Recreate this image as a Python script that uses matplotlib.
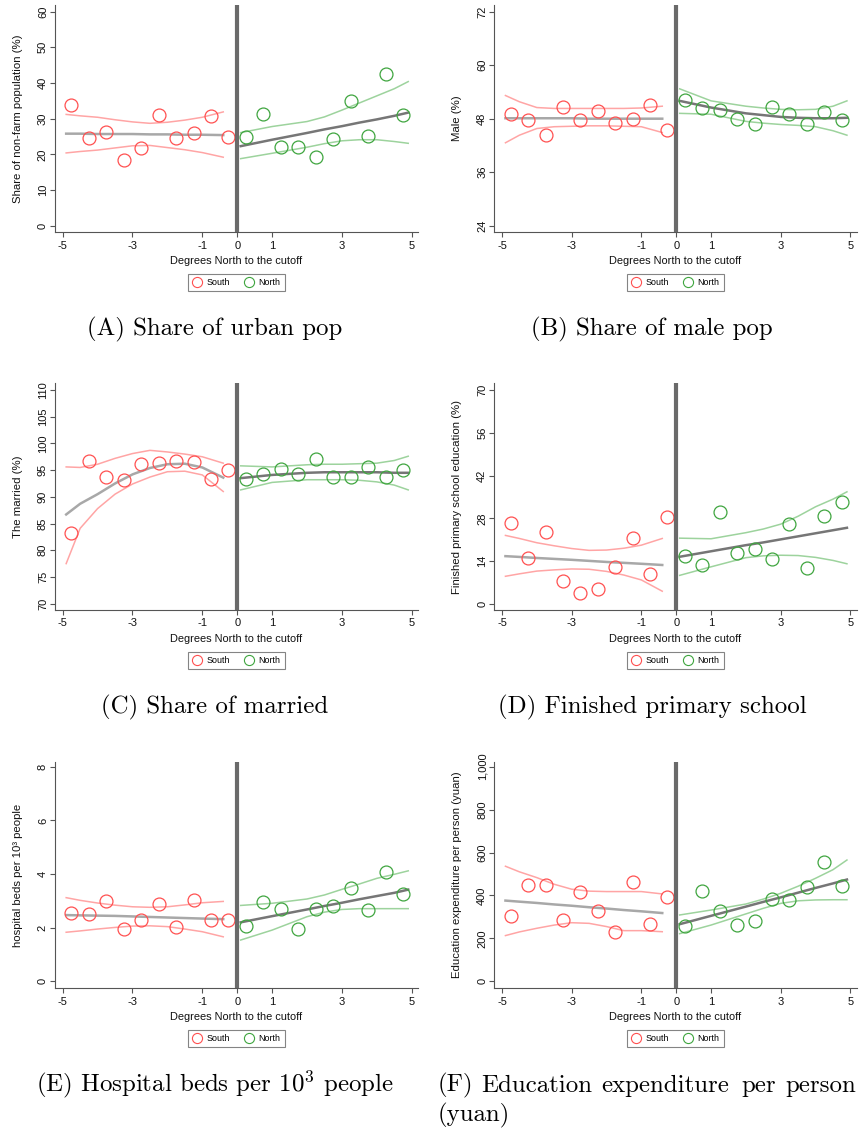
import matplotlib
matplotlib.use("Agg")
import matplotlib.pyplot as plt
from matplotlib.lines import Line2D
from matplotlib.ticker import FuncFormatter

plt.rcParams['font.family'] = ['Liberation Sans', 'DejaVu Sans']
plt.rcParams['mathtext.fontset'] = 'cm'

# ---------------- data ----------------
X_SOUTH = [-4.75, -4.25, -3.75, -3.25, -2.75, -2.25, -1.75, -1.25, -0.75, -0.25]
X_NORTH = [0.25, 0.75, 1.25, 1.75, 2.25, 2.75, 3.25, 3.75, 4.25, 4.75]
GRID_S = [-4.9, -4.5, -4.0, -3.5, -3.0, -2.5, -2.0, -1.5, -1.0, -0.4]
GRID_N = [0.1, 1.0, 2.0, 2.5, 3.0, 3.5, 4.0, 4.5, 4.9]
X_TICKS = [-5, -3, -1, 0, 1, 3, 5]

# (A) urban
A_s = [33.7, 24.7, 26.3, 18.5, 21.7, 31.1, 24.6, 25.9, 30.7, 25.0]
A_n = [25.0, 31.4, 22.1, 22.2, 19.3, 24.4, 35.0, 25.2, 42.6, 31.0]
A_fit_s = [25.8, 25.8, 25.7, 25.7, 25.7, 25.6, 25.6, 25.5, 25.5, 25.4]
A_hi_s = [31.2, 30.8, 30.4, 29.7, 29.1, 28.7, 29.0, 29.6, 30.4, 31.9]
A_lo_s = [20.4, 20.8, 21.2, 21.8, 22.4, 22.5, 21.9, 21.3, 20.5, 19.2]
A_fit_n = [22.3, 24.1, 26.0, 27.0, 27.9, 28.9, 29.8, 30.8, 31.7]
A_hi_n = [26.1, 27.8, 29.2, 30.5, 32.4, 34.4, 36.4, 38.4, 40.4]
A_lo_n = [18.8, 20.3, 22.0, 23.0, 23.8, 24.1, 24.1, 23.6, 23.1]

# (B) male
B_s = [49.0, 47.8, 44.4, 50.6, 47.7, 49.8, 47.1, 47.9, 51.0, 45.5]
B_n = [52.3, 50.5, 49.9, 47.9, 46.9, 50.6, 49.0, 46.9, 49.6, 47.6]
B_fit_s = [48.1, 48.1, 48.1, 48.1, 48.1, 48.0, 48.0, 48.0, 48.0, 48.0]
B_hi_s = [53.2, 51.8, 50.5, 50.3, 50.3, 50.3, 50.3, 50.3, 50.4, 50.8]
B_lo_s = [42.6, 44.3, 45.8, 46.2, 46.3, 46.4, 46.4, 46.3, 46.2, 44.9]
B_fit_n = [52.0, 50.5, 49.2, 48.8, 48.4, 48.2, 48.1, 48.1, 48.2]
B_hi_n = [54.7, 52.0, 50.8, 50.4, 50.1, 50.0, 50.1, 50.8, 52.0]
B_lo_n = [49.2, 49.0, 47.4, 47.0, 46.7, 46.5, 46.2, 45.3, 44.3]

# (C) married
C_s = [83.2, 96.8, 93.7, 93.2, 96.2, 96.3, 96.7, 96.5, 93.3, 95.0]
C_n = [93.3, 94.3, 95.2, 94.3, 97.1, 93.7, 93.7, 95.5, 93.7, 95.1]
C_fit_s = [86.7, 88.7, 90.5, 92.5, 94.2, 95.4, 96.1, 96.2, 95.5, 93.6]
C_hi_s = [95.6, 95.5, 96.1, 97.2, 98.1, 98.7, 98.4, 98.0, 97.5, 96.3]
C_lo_s = [77.5, 84.1, 87.8, 90.5, 92.4, 93.7, 94.7, 94.8, 94.1, 91.0]
C_fit_n = [93.5, 94.1, 94.5, 94.6, 94.6, 94.6, 94.6, 94.5, 94.5]
C_hi_n = [95.8, 95.6, 96.0, 96.1, 96.1, 96.2, 96.3, 96.8, 97.6]
C_lo_n = [91.3, 92.7, 93.2, 93.2, 93.2, 93.1, 92.8, 92.2, 91.3]

# (D) primary school
D_s = [26.4, 14.9, 23.5, 7.4, 3.5, 4.9, 11.9, 21.4, 9.8, 28.4]
D_n = [15.8, 12.7, 30.2, 16.5, 17.9, 14.7, 26.0, 11.7, 28.7, 33.2]
D_fit_s = [15.6, 15.35, 15.0, 14.7, 14.4, 14.05, 13.7, 13.4, 13.1, 12.7]
D_hi_s = [22.4, 21.4, 20.0, 19.0, 18.1, 17.5, 17.6, 18.2, 19.2, 21.4]
D_lo_s = [9.0, 9.8, 10.7, 11.1, 11.4, 11.3, 10.6, 9.4, 7.8, 4.1]
D_fit_n = [15.4, 17.2, 19.2, 20.1, 21.1, 22.1, 23.1, 24.1, 24.9]
D_hi_n = [21.5, 21.3, 23.3, 24.5, 26.1, 28.7, 31.8, 34.3, 36.7]
D_lo_n = [9.3, 12.1, 15.1, 15.7, 15.9, 15.8, 15.2, 14.2, 13.1]

# (E) hospital beds
E_s = [2.55, 2.50, 3.01, 1.96, 2.27, 2.89, 2.04, 3.02, 2.30, 2.30]
E_n = [2.05, 2.97, 2.71, 1.96, 2.71, 2.81, 3.48, 2.67, 4.09, 3.24]
E_fit_s = [2.47, 2.46, 2.45, 2.44, 2.42, 2.40, 2.38, 2.36, 2.34, 2.32]
E_hi_s = [3.12, 3.02, 2.92, 2.84, 2.78, 2.76, 2.78, 2.85, 2.93, 2.98]
E_lo_s = [1.83, 1.88, 1.95, 2.01, 2.06, 2.07, 2.04, 1.95, 1.85, 1.66]
E_fit_n = [2.20, 2.43, 2.68, 2.81, 2.93, 3.06, 3.18, 3.30, 3.42]
E_hi_n = [2.83, 2.91, 3.07, 3.22, 3.43, 3.63, 3.84, 3.99, 4.12]
E_lo_n = [1.54, 1.91, 2.41, 2.58, 2.68, 2.71, 2.71, 2.71, 2.71]

# (F) education expenditure
F_s = [303, 450, 447, 287, 418, 328, 230, 461, 269, 394]
F_n = [259, 422, 326, 262, 281, 382, 380, 439, 556, 444]
F_fit_s = [376, 371, 365, 358, 352, 345, 339, 332, 326, 318]
F_hi_s = [536, 510, 483, 452, 429, 420, 418, 418, 418, 407]
F_lo_s = [213, 230, 247, 262, 273, 270, 255, 236, 236, 231]
F_fit_n = [266, 305, 348, 370, 391, 413, 435, 456, 474]
F_hi_n = [309, 332, 360, 383, 410, 443, 480, 520, 565]
F_lo_n = [222, 262, 314, 340, 363, 375, 379, 380, 380]

YT_A = [0, 10, 20, 30, 40, 50, 60]
YT_B = [24, 36, 48, 60, 72]
YT_C = [70, 75, 80, 85, 90, 95, 100, 105, 110]
YT_D = [0, 14, 28, 42, 56, 70]
YT_E = [0, 2, 4, 6, 8]
YT_F = [0, 200, 400, 600, 800, 1000]

LABELS = ["Share of non-farm population (%)", "Male (%)", "The married (%)",
          "Finished primary school education (%)", "hospital beds per 10\u00b3 people",
          "Education expenditure per person (yuan)"]
CAPTIONS = ["(A) Share of urban pop", "(B) Share of male pop", "(C) Share of married",
            "(D) Finished primary school", r"(E) Hospital beds per $10^3$ people"]
F_WORDS = ["(F)", "Education", "expenditure", "per", "person"]
F_LINE2 = "(yuan)"

# ---------------- style ----------------
W, H = 859, 1131
RED = '#ff5050'
GREEN = '#3fa53f'
RED_CI = '#ffa5a5'
GREEN_CI = '#9dd39d'
FIT_S = '#a8a8a8'
FIT_N = '#767676'
VLINE = '#6a6a6a'
AXC = '#555555'

fig = plt.figure(figsize=(W / 100, H / 100), dpi=100)


def rect(left, right, top, bottom):
    return [left / W, 1 - bottom / H, (right - left) / W, (bottom - top) / H]


COLS = [(55, 418), (494.3, 856.7)]
ROWS = [(5, 232.3), (383.3, 610), (761.7, 988.3)]

panels = [
    (A_s, A_n, A_fit_s, A_hi_s, A_lo_s, A_fit_n, A_hi_n, A_lo_n, YT_A, (-1.85, 61.87)),
    (B_s, B_n, B_fit_s, B_hi_s, B_lo_s, B_fit_n, B_hi_n, B_lo_n, YT_B, (22.52, 73.5)),
    (C_s, C_n, C_fit_s, C_hi_s, C_lo_s, C_fit_n, C_hi_n, C_lo_n, YT_C, (68.82, 111.25)),
    (D_s, D_n, D_fit_s, D_hi_s, D_lo_s, D_fit_n, D_hi_n, D_lo_n, YT_D, (-2.06, 72.29)),
    (E_s, E_n, E_fit_s, E_hi_s, E_lo_s, E_fit_n, E_hi_n, E_lo_n, YT_E, (-0.26, 8.19)),
    (F_s, F_n, F_fit_s, F_hi_s, F_lo_s, F_fit_n, F_hi_n, F_lo_n, YT_F, (-32.6, 1023)),
]

for i, p in enumerate(panels):
    ys, yn, fs, hs, ls_, fn, hn, ln, yt, ylim = p
    c = COLS[i % 2]
    r = ROWS[i // 2]
    ax = fig.add_axes(rect(c[0], c[1], r[0], r[1]))
    ax.plot(GRID_S, hs, color=RED_CI, lw=1.1, zorder=2)
    ax.plot(GRID_S, ls_, color=RED_CI, lw=1.1, zorder=2)
    ax.plot(GRID_N, hn, color=GREEN_CI, lw=1.1, zorder=2)
    ax.plot(GRID_N, ln, color=GREEN_CI, lw=1.1, zorder=2)
    ax.plot(GRID_S, fs, color=FIT_S, lw=1.8, zorder=3)
    ax.plot(GRID_N, fn, color=FIT_N, lw=1.8, zorder=3)
    ax.plot(X_SOUTH, ys, ls='none', marker='o', ms=9.3, mfc='none', mec=RED, mew=0.9, zorder=4)
    ax.plot(X_NORTH, yn, ls='none', marker='o', ms=9.3, mfc='none', mec=GREEN, mew=0.9, zorder=4)
    ax.axvline(0, color=VLINE, lw=3.0, zorder=5)

    ax.set_xlim(-5.22, 5.18)
    ax.set_ylim(*ylim)
    ax.set_xticks(X_TICKS)
    ax.set_yticks(yt)
    if i == 5:
        ax.yaxis.set_major_formatter(FuncFormatter(lambda v, pos: f"{int(v):,}"))
    ax.xaxis.set_major_formatter(FuncFormatter(lambda v, pos: f"{int(v)}"))
    for s in ['top', 'right']:
        ax.spines[s].set_visible(False)
    for s in ['left', 'bottom']:
        ax.spines[s].set_color(AXC)
        ax.spines[s].set_linewidth(0.8)
    ax.tick_params(axis='both', direction='out', length=3.6, width=0.8, color=AXC,
                   labelsize=8, labelcolor='#111111')
    ax.tick_params(axis='x', pad=2.5)
    ax.tick_params(axis='y', pad=1.5, labelrotation=90)
    for lab in ax.get_yticklabels():
        lab.set_va('center')
        lab.set_ha('right')
    ax.set_xlabel("Degrees North to the cutoff", fontsize=7.9, color='#111111')
    ax.xaxis.label.set_va('center')
    ax.xaxis.set_label_coords(0.5, -0.126)
    ax.set_ylabel(LABELS[i], fontsize=8.2, color='#111111')
    ax.yaxis.label.set_va('center')
    ax.yaxis.set_label_coords(-0.102, 0.5)

    handles = [Line2D([], [], ls='none', marker='o', ms=7.3, mfc='none', mec=RED, mew=0.8),
               Line2D([], [], ls='none', marker='o', ms=7.3, mfc='none', mec=GREEN, mew=0.8)]
    leg = ax.legend(handles, ["South", "North"], loc='center', bbox_to_anchor=(0.5, -0.223),
                    ncol=2, frameon=True, fancybox=False, fontsize=6.4, handlelength=1.0,
                    handletextpad=0.6, columnspacing=1.6, borderpad=0.45, borderaxespad=0)
    leg.get_frame().set_edgecolor('#666666')
    leg.get_frame().set_linewidth(0.8)

# captions
CAP_FS = 17.9
cap_pos = [(215, 335.7), (652, 335.7), (215, 713.7), (652, 713.7), (215, 1091.7)]
for txt, (x, y) in zip(CAPTIONS, cap_pos):
    fig.text(x / W, 1 - y / H, txt, family='cmr10', fontsize=CAP_FS, ha='center', va='baseline')

F_X = [438, 481, 601, 741, 785]
for w, x in zip(F_WORDS, F_X):
    fig.text(x / W, 1 - 1091.7 / H, w, family='cmr10', fontsize=CAP_FS, ha='left', va='baseline')
fig.text(438 / W, 1 - 1121.5 / H, F_LINE2, family='cmr10', fontsize=CAP_FS, ha='left', va='baseline')

fig.savefig("out.png", dpi=100, facecolor='white')
